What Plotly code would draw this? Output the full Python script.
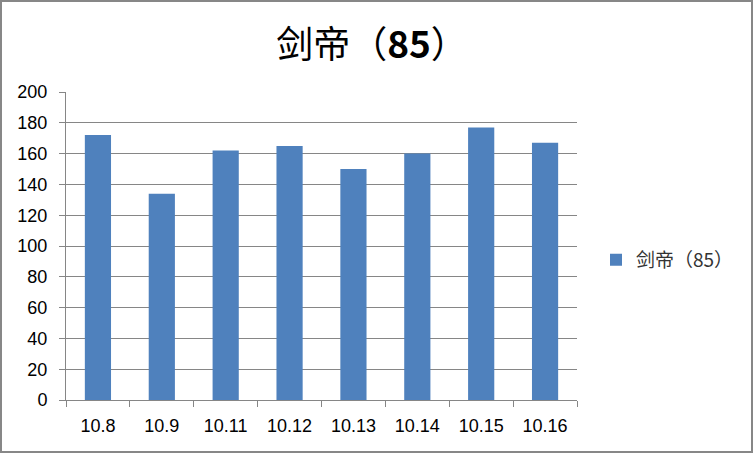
import plotly.graph_objects as go

# data
categories = ['10.8', '10.9', '10.11', '10.12', '10.13', '10.14', '10.15', '10.16']
values = [172, 134, 162, 165, 150, 160, 177, 167]
series_name = '剑帝（85）'

W, H = 754, 454
ML, MR, MT, MB = 66, 177, 92, 54
pw, ph = W - ML - MR, H - MT - MB

cjk = 'Noto Sans CJK SC'
latin = 'Liberation Sans, Noto Sans CJK SC'

fig = go.Figure(go.Bar(
    x=categories,
    y=values,
    name=series_name,
    marker=dict(color='#4F81BD', line=dict(width=0)),
    showlegend=True,
))

fig.update_layout(
    width=W,
    height=H,
    margin=dict(l=ML, r=MR, t=MT, b=MB),
    paper_bgcolor='white',
    plot_bgcolor='white',
    bargap=0.59,
    title=dict(
        text='剑帝（<b>85</b>）',
        x=(372 - ML) / pw, xref='paper', xanchor='center',
        y=1 - 45 / H, yanchor='middle',
        font=dict(family=cjk, size=37, color='black'),
    ),
    legend=dict(
        x=(596 - ML) / pw, y=0.455, xanchor='left', yanchor='middle',
        font=dict(family=cjk, size=19, color='#333333'),
        itemwidth=30, bgcolor='rgba(0,0,0,0)',
    ),
    font=dict(family=latin, size=18, color='black'),
)

fig.update_yaxes(
    range=[0, 200], dtick=20,
    showgrid=True, gridcolor='#868686', gridwidth=1,
    showline=True, linecolor='#868686', linewidth=1,
    ticks='outside', ticklen=6, tickcolor='#868686',
    ticklabelstandoff=8,
    tickfont=dict(family=latin, size=18, color='black'),
    zeroline=False,
)
fig.update_xaxes(
    showline=True, linecolor='#868686', linewidth=1,
    ticks='outside', ticklen=6, tickcolor='#868686',
    tickson='boundaries', ticklabelstandoff=9,
    tickfont=dict(family=latin, size=18, color='black'),
)

# outer frame of the chart area
fig.add_shape(
    type='rect', xref='paper', yref='paper',
    x0=(1 - ML) / pw, x1=(752 - ML) / pw,
    y0=(H - MB - 452) / ph, y1=(H - MB - 1) / ph,
    line=dict(color='#878787', width=2), layer='below',
)

# drop the default page margin so the figure sits at the window corner
fig.write_html('out.html', config={'displayModeBar': False},
               post_script="document.body.style.margin='0';")
